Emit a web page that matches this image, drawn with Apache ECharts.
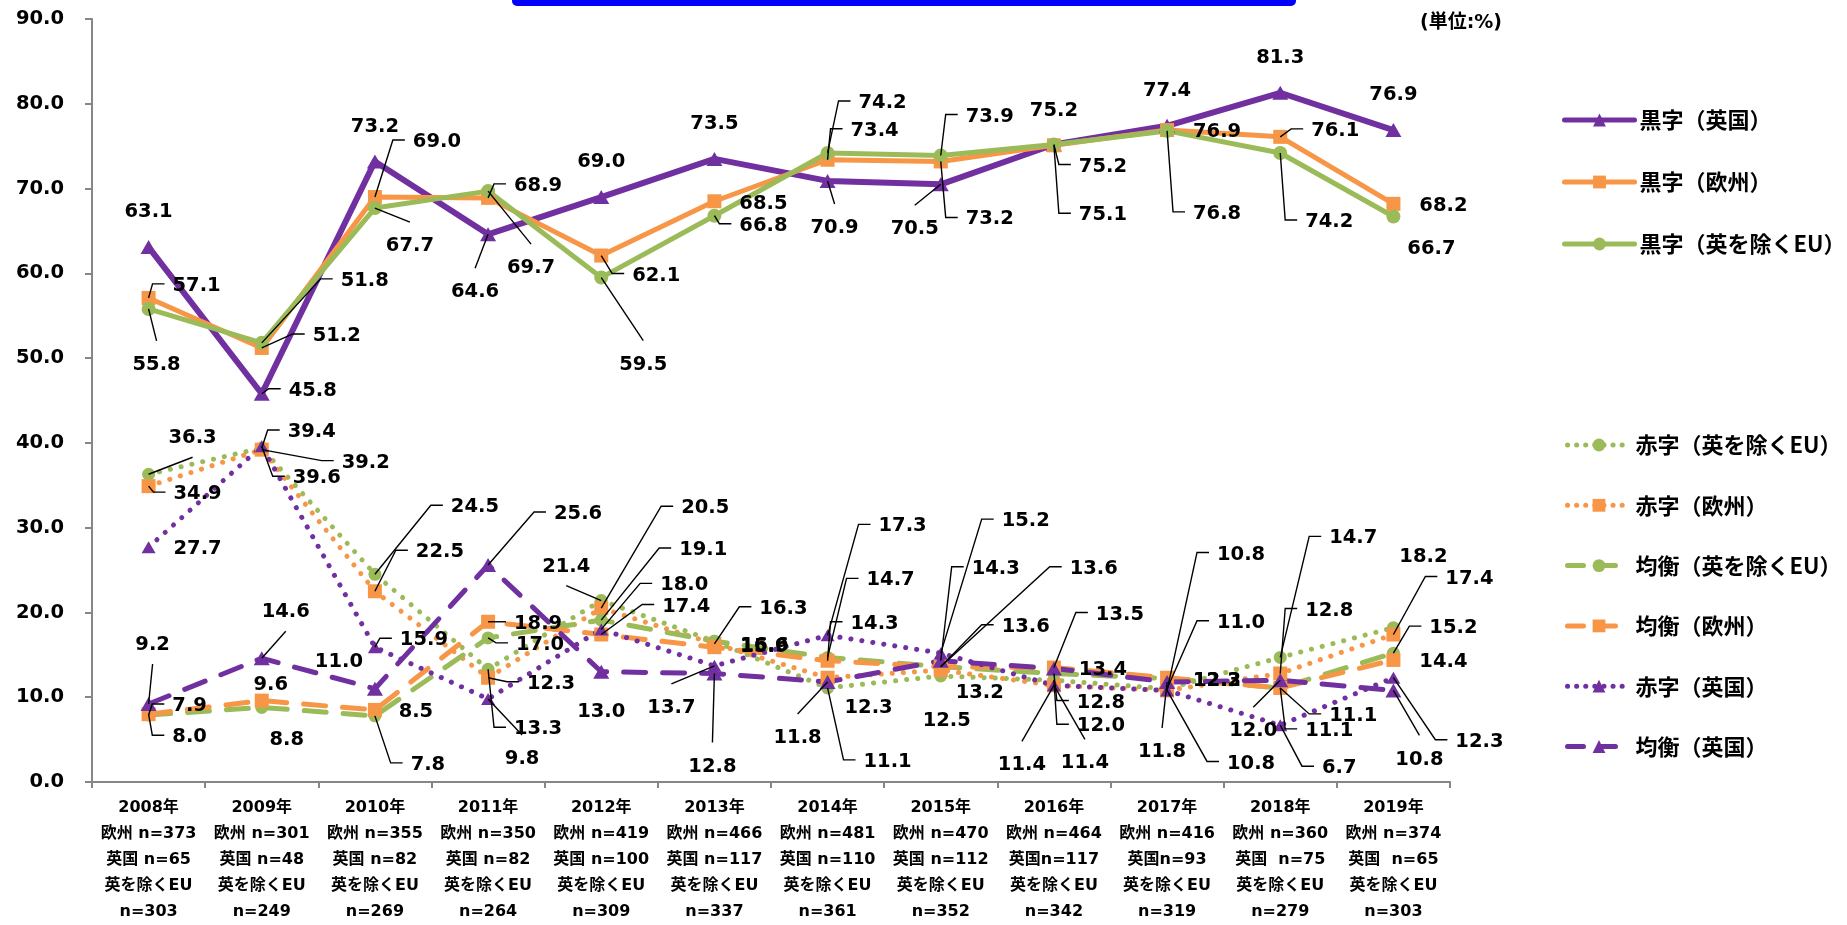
<!DOCTYPE html>
<html>
<head>
<meta charset="utf-8">
<script src="https://cdn.jsdelivr.net/npm/echarts@6/dist/echarts.min.js"></script>
<style>
html,body{margin:0;padding:0;background:#ffffff;width:1847px;height:925px;overflow:hidden;}
#chart{width:1847px;height:925px;overflow:hidden;}
</style>
</head>
<body>
<div id="chart"></div>
<script>
// ---------- data ----------
const years = ['2008年','2009年','2010年','2011年','2012年','2013年','2014年','2015年','2016年','2017年','2018年','2019年'];
const nEurope = ['欧州 n=373','欧州 n=301','欧州 n=355','欧州 n=350','欧州 n=419','欧州 n=466','欧州 n=481','欧州 n=470','欧州 n=464','欧州 n=416','欧州 n=360','欧州 n=374'];
const nUK = ['英国 n=65','英国 n=48','英国 n=82','英国 n=82','英国 n=100','英国 n=117','英国 n=110','英国 n=112','英国n=117','英国n=93','英国  n=75','英国  n=65'];
const exLabel = '英を除くEU';
const nExUK = ['n=303','n=249','n=269','n=264','n=309','n=337','n=361','n=352','n=342','n=319','n=279','n=303'];

const yMin = 0, yMax = 90, yStep = 10;

const kuroUK = [63.1,45.8,73.2,64.6,69.0,73.5,70.9,70.5,75.2,77.4,81.3,76.9];
const kuroEU = [57.1,51.2,69.0,68.9,62.1,68.5,73.4,73.2,75.1,76.9,76.1,68.2];
const kuroEx = [55.8,51.8,67.7,69.7,59.5,66.8,74.2,73.9,75.2,76.8,74.2,66.7];
const akaEx  = [36.3,39.4,24.5,13.3,21.4,16.6,11.1,12.5,12.0,11.0,14.7,18.2];
const akaEU  = [34.9,39.2,22.5,12.3,20.5,16.3,12.3,13.2,11.4,10.8,12.8,17.4];
const kinEx  = [7.9,8.8,7.8,17.0,19.1,16.6,14.7,13.6,12.8,12.2,11.1,15.2];
const kinEU  = [8.0,9.6,8.5,18.9,17.4,15.9,14.3,13.6,13.5,12.3,11.1,14.4];
const akaUK  = [27.7,39.6,15.9,9.8,18.0,13.7,17.3,15.2,11.4,10.8,6.7,12.3];
const kinUK  = [9.2,14.6,11.0,25.6,13.0,12.8,11.8,14.3,13.4,11.8,12.0,10.8];

// ---------- label placement (pixel offsets from the point, leader type) ----------
const LAYOUT = {
  kuroUK: [[0,-35,0],[51,-3,'l'],[0,-34,0],[-13,58,'t'],[0,-35,0],[0,-35,0],[7,47,'t'],[-26,45,'t'],[0,-34,0],[0,-35,0],[0,-35,0],[0,-35,0]],
  kuroEU: [[48,-12,'l'],[75,-12,'l'],[62,-55,'l'],[50,-12,'l'],[55,20,'l'],[49,3,0],[47,-29,'l'],[49,58,'l'],[49,70,'l'],[50,2,0],[55,-6,'l'],[50,2,0]],
  kuroEx: [[8,56,'t'],[103,-62,'l'],[35,38,'t'],[43,77,'t'],[42,87,'t'],[49,10,'l'],[55,-50,'l'],[49,-39,'l'],[49,22,'l'],[50,83,'l'],[49,69,'l'],[38,32,0]],
  akaEx:  [[44,-36,'b'],[50,-16,'l'],[100,-67,'l'],[50,60,'l'],[-35,-34,'b'],[50,5,0],[60,74,'l'],[6,45,0],[47,46,'l'],[74,-66,'l'],[73,-119,'l'],[30,-71,0]],
  akaEU:  [[49,8,'l'],[104,13,'l'],[65,-39,'l'],[63,6,'l'],[104,-100,'l'],[69,-35,'l'],[41,30,0],[39,23,0],[-32,80,'t'],[84,73,'l'],[49,-63,'l'],[76,-56,'l']],
  kinEx:  [[41,-9,'l'],[25,33,0],[53,49,'l'],[52,7,'l'],[102,-70,'l'],[50,5,0],[63,-77,'l'],[153,-98,'l'],[47,29,'l'],[50,2,0],[73,28,'l'],[60,-25,'l']],
  kinEU:  [[41,23,'l'],[9,-16,0],[41,2,0],[50,2,'l'],[85,-28,'l'],[50,0,0],[47,-37,'l'],[85,-40,'l'],[66,-53,'l'],[50,3,0],[49,43,'l'],[50,2,0]],
  akaUK:  [[49,2,0],[55,32,'l'],[49,-7,'l'],[34,60,'t'],[83,-44,'l'],[-43,42,'t'],[75,-109,'l'],[85,-132,'l'],[31,78,'t'],[74,-136,'l'],[59,43,'l'],[86,64,'l']],
  kinUK:  [[4,-59,'b'],[24,-46,'b'],[-36,-27,0],[90,-51,'l'],[0,40,0],[-2,93,'t'],[-30,56,'t'],[55,-92,'l'],[49,2,0],[-5,70,'t'],[-27,51,'t'],[26,69,'t']]
};

const PURPLE = '#7030A0', ORANGE = '#F79646', GREEN = '#9BBB59';
const DOT = [0.1, 11], DASH = [22, 17];

const SERIES = [
  {key:'kuroUK', name:'黒字（英国）', values:kuroUK, color:PURPLE, symbol:'triangle', size:[16,14], width:6, type:'solid'},
  {key:'kuroEU', name:'黒字（欧州）', values:kuroEU, color:ORANGE, symbol:'rect', size:14, width:5, type:'solid'},
  {key:'kuroEx', name:'黒字（英を除くEU）', values:kuroEx, color:GREEN, symbol:'circle', size:14, width:5, type:'solid'},
  {key:'akaEx', name:'赤字（英を除くEU）', values:akaEx, color:GREEN, symbol:'circle', size:13, width:5, type:DOT},
  {key:'akaEU', name:'赤字（欧州）', values:akaEU, color:ORANGE, symbol:'rect', size:14, width:5, type:DOT},
  {key:'kinEx', name:'均衡（英を除くEU）', values:kinEx, color:GREEN, symbol:'circle', size:13, width:5, type:DASH},
  {key:'kinEU', name:'均衡（欧州）', values:kinEU, color:ORANGE, symbol:'rect', size:14, width:5, type:DASH},
  {key:'akaUK', name:'赤字（英国）', values:akaUK, color:PURPLE, symbol:'triangle', size:[14,12], width:5, type:DOT},
  {key:'kinUK', name:'均衡（英国）', values:kinUK, color:PURPLE, symbol:'triangle', size:[16,14], width:5, type:DASH}
];

const LEGEND_DOT = [0.1, 9], LEGEND_DASH = [16, 16];

const categories = years.map((y, i) => [y, nEurope[i], nUK[i], exLabel, nExUK[i]].join('\n'));

const LABEL_FONT = 'bold 19.5px "DejaVu Sans"';
const measureCtx = document.createElement('canvas').getContext('2d');
measureCtx.font = LABEL_FONT;
function textW(t){ return measureCtx.measureText(t).width; }

const labelRows = [];
SERIES.forEach((s, si) => s.values.forEach((v, i) => labelRows.push([i, v, si])));

function renderLabel(params, api) {
  const i = api.value(0), v = api.value(1), si = api.value(2);
  const p = api.coord([i, v]);
  const lay = LAYOUT[SERIES[si].key][i];
  const lx = p[0] + lay[0], ly = p[1] + lay[1];
  const text = Number(v).toFixed(1);
  const w = textW(text);
  const children = [];
  let pts = null;
  if (lay[2] === 'l') {
    const L = lx - w / 2;
    pts = [[p[0], p[1]], [L - 20, ly - 2], [L - 8, ly - 2]];
  } else if (lay[2] === 't') {
    pts = [[p[0], p[1]], [lx, ly - 24]];
  } else if (lay[2] === 'b') {
    pts = [[p[0], p[1]], [lx, ly + 19]];
  }
  if (pts) {
    children.push({type:'polyline', shape:{points:pts}, style:{stroke:'#000', lineWidth:1.4, fill:null}, silent:true});
  }
  children.push({type:'text', x:lx, y:ly, style:{text:text, fill:'#000', font:LABEL_FONT, align:'center', verticalAlign:'middle', textAlign:'center', textVerticalAlign:'middle'}, silent:true});
  return {type:'group', children:children};
}

const series = SERIES.map((s) => ({
  type:'line', name:s.name, data:s.values,
  symbol:s.symbol, symbolSize:s.size, showSymbol:true, showAllSymbol:true,
  lineStyle:{color:s.color, width:s.width, type:s.type, cap:'round', join:'round'},
  itemStyle:{color:s.color, borderWidth:0},
  emphasis:{disabled:true}, silent:true, animation:false, z:2
}));
series.push({
  type:'custom', name:'labels', data:labelRows, dimensions:['x','y','s'],
  encode:{x:'x', y:'y'}, renderItem:renderLabel, clip:false, silent:true, animation:false, z:10
});

const legendText = {fontSize:22, fontWeight:'bold', fontFamily:'"Noto Sans CJK JP"', color:'#000'};

function legendItem(s) {
  const t = s.type === DOT ? LEGEND_DOT : (s.type === DASH ? LEGEND_DASH : 'solid');
  return {name:s.name, lineStyle:{width:5, type:t, cap:'round', color:s.color}, itemStyle:{color:s.color}};
}
const topNames = ['黒字（英国）','黒字（欧州）','黒字（英を除くEU）'];
const bottomNames = ['赤字（英を除くEU）','赤字（欧州）','均衡（英を除くEU）','均衡（欧州）','赤字（英国）','均衡（英国）'];
const byName = {};
SERIES.forEach(s => { byName[s.name] = s; });

const option = {
  backgroundColor:'#ffffff',
  animation:false,
  grid:{left:92, right:397, top:19, bottom:139, containLabel:false},
  xAxis:{
    type:'category', data:categories, boundaryGap:true,
    axisLine:{lineStyle:{color:'#868686', width:2}},
    axisTick:{show:true, length:6, lineStyle:{color:'#868686', width:2}},
    axisLabel:{interval:0, margin:13, color:'#000', fontSize:16, fontWeight:'bold', lineHeight:26, fontFamily:'"DejaVu Sans","Noto Sans CJK JP"'},
    splitLine:{show:false}
  },
  yAxis:{
    type:'value', min:yMin, max:yMax, interval:yStep,
    axisLine:{show:true, lineStyle:{color:'#868686', width:2}},
    axisTick:{show:true, length:7, lineStyle:{color:'#868686', width:2}},
    axisLabel:{margin:28, color:'#000', fontSize:19.5, fontWeight:'bold', fontFamily:'"DejaVu Sans"', formatter:(v)=>v.toFixed(1)},
    splitLine:{show:false}
  },
  legend:[
    {data:topNames.map(n => legendItem(byName[n])), orient:'vertical', left:1557, top:104,
     itemWidth:70, itemHeight:16, itemGap:40, textStyle:legendText, selectedMode:false},
    {data:bottomNames.map(n => legendItem(byName[n])), orient:'vertical', left:1560, top:429,
     itemWidth:63, itemHeight:16, itemGap:38.3, textStyle:legendText, selectedMode:false}
  ],
  graphic:[
    {type:'rect', left:512, top:-6, shape:{width:784, height:12, r:5}, style:{fill:'#0000FF'}, silent:true},
    {type:'text', right:1847-1502, top:14, style:{text:'(単位:%)', font:'bold 19px "DejaVu Sans","Noto Sans CJK JP"', fill:'#000'}, silent:true}
  ],
  series:series
};

const chart = echarts.init(document.getElementById('chart'), null, {renderer:'canvas', width:1847, height:925});
chart.setOption(option);
</script>
</body>
</html>
